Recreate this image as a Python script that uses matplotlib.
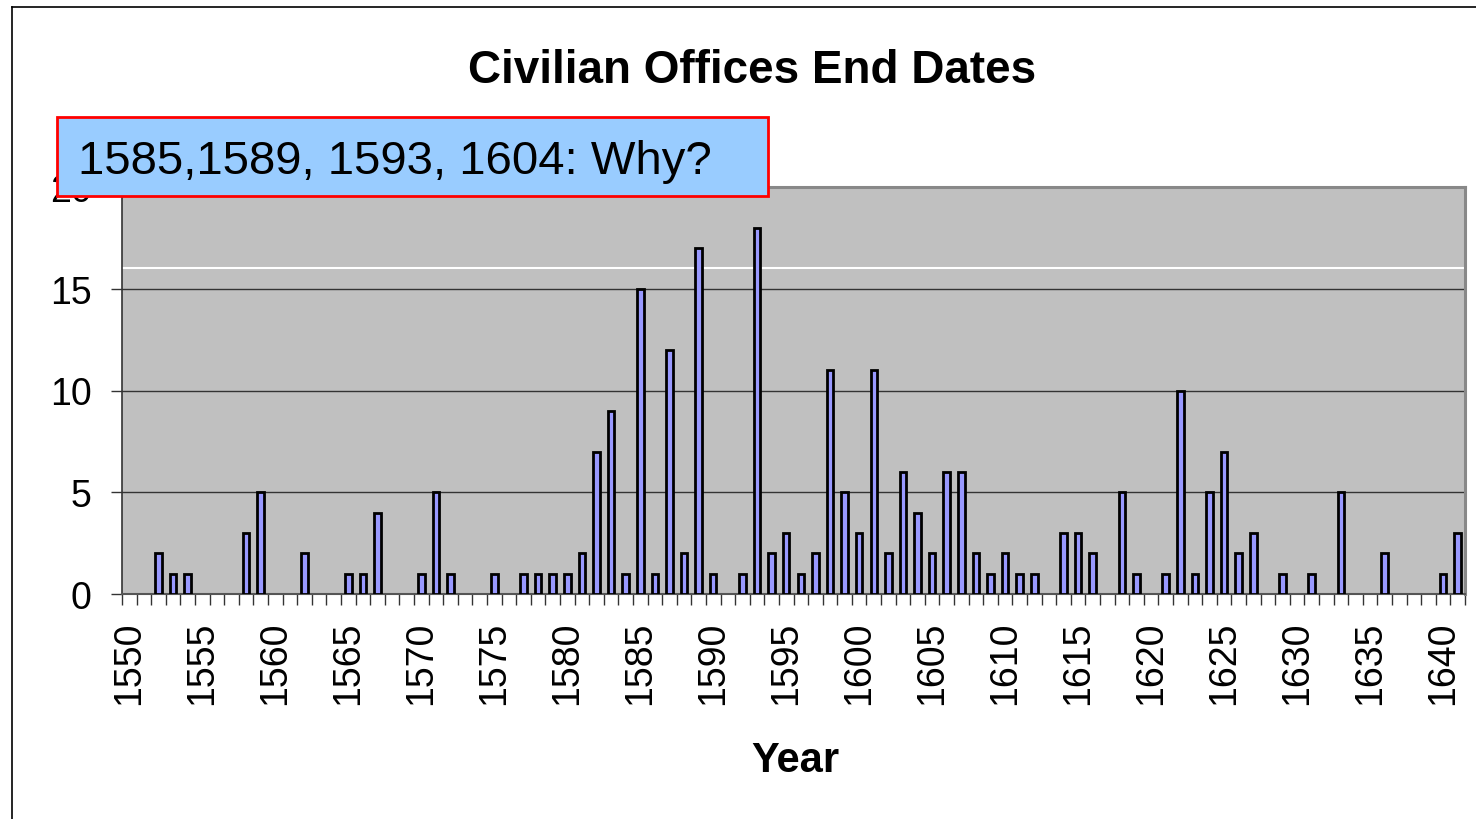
import matplotlib
matplotlib.use("Agg")
import matplotlib.pyplot as plt
from matplotlib.patches import Rectangle
from matplotlib.lines import Line2D
import numpy as np

plt.rcParams['font.family'] = ['Liberation Sans', 'DejaVu Sans']

years = list(range(1550, 1642))
counts = [0, 0, 2, 1, 1, 0, 0, 0, 3, 5,
          0, 0, 2, 0, 0, 1, 1, 4, 0, 0,
          1, 5, 1, 0, 0, 1, 0, 1, 1, 1,
          1, 2, 7, 9, 1, 15, 1, 12, 2, 17,
          1, 0, 1, 18, 2, 3, 1, 2, 11, 5,
          3, 11, 2, 6, 4, 2, 6, 6, 2, 1,
          2, 1, 1, 0, 3, 3, 2, 0, 5, 1,
          0, 1, 10, 1, 5, 7, 2, 3, 0, 1,
          0, 1, 0, 5, 0, 0, 2, 0, 0, 0,
          1, 3]
label_years = list(range(1550, 1641, 5))
y_ticks = [0, 5, 10, 15, 20]
title = "Civilian Offices End Dates"
x_label = "Year"
note = "1585,1589, 1593, 1604: Why?"

W, H = 1476, 820
fig = plt.figure(figsize=(W / 100, H / 100), dpi=100)
fig.patch.set_facecolor('white')

ax = fig.add_axes([122 / W, 1 - 595 / H, (1465 - 122) / W, (595 - 188) / H])
ax.set_facecolor('#C0C0C0')

x = np.arange(len(years))
edge = ['black' if c > 0 else 'none' for c in counts]
ax.bar(x, counts, width=0.45, color='#9999FF', edgecolor=edge, linewidth=2.0, zorder=3)

ax.set_xlim(-0.5, len(years) - 0.5)
ax.set_ylim(0, 20)

# gridlines
for v in y_ticks[1:-1]:
    ax.axhline(v, color='#333333', linewidth=1.0, zorder=1)
ax.axhline(16, color='white', linewidth=1.5, zorder=1)

ax.set_yticks(y_ticks)
ax.set_yticklabels([str(v) for v in y_ticks], fontsize=27)
ax.tick_params(axis='y', which='major', length=8, width=1, color='#333333', pad=14)

pos = [years.index(yv) for yv in label_years]
ax.set_xticks(pos)
ax.set_xticklabels([str(yv) for yv in label_years], rotation=90, fontsize=27)
ax.tick_params(axis='x', which='major', length=0, pad=19)
ax.set_xticks(np.arange(-0.5, len(years) + 0.5, 1.0), minor=True)
ax.tick_params(axis='x', which='minor', length=8, width=1, color='#333333')

for s in ['top', 'right']:
    ax.spines[s].set_color('#888888')
    ax.spines[s].set_linewidth(2.2)
ax.spines['left'].set_color('#333333')
ax.spines['left'].set_linewidth(1.2)
ax.spines['bottom'].set_color('#555555')
ax.spines['bottom'].set_linewidth(1.5)

fig.text(752 / W, 1 - 71 / H, title, fontsize=33, fontweight='bold', ha='center', va='center')
fig.text(795 / W, 1 - 761 / H, x_label, fontsize=30, fontweight='bold', ha='center', va='center')

# note box
box = Rectangle((57 / W, 1 - 197 / H), (768 - 57) / W, (197 - 118) / H,
                transform=fig.transFigure, facecolor='#99CCFF', edgecolor='#FF0000',
                linewidth=2, zorder=10)
fig.patches.append(box)
fig.text(78 / W, 1 - 162 / H, note, fontsize=34, ha='left', va='center', zorder=11)

# outer border
fig.lines.append(Line2D([12 / W, 12 / W], [0, 1 - 8 / H], transform=fig.transFigure,
                        color='black', linewidth=1.2))
fig.lines.append(Line2D([12 / W, 1], [1 - 8 / H, 1 - 8 / H], transform=fig.transFigure,
                        color='black', linewidth=1.2))

fig.savefig('out.png', dpi=100)
